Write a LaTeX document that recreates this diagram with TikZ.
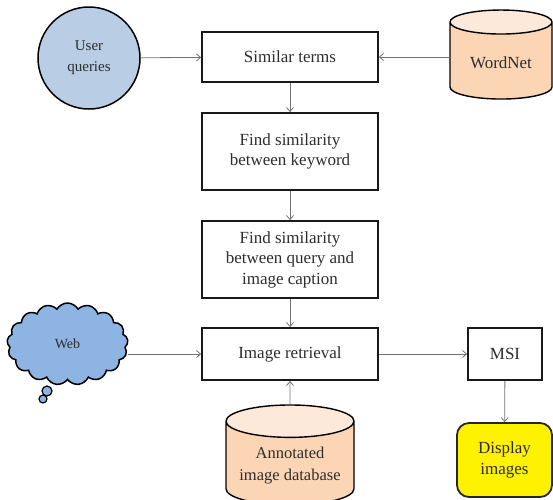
\documentclass[tikz,border=0pt]{standalone}
\usepackage{fontspec}
\setmainfont{Liberation Serif}
\usetikzlibrary{shapes.geometric,shapes.symbols,arrows.meta}

\definecolor{queryblue}{RGB}{185,205,229}
\definecolor{cloudblue}{RGB}{142,180,227}
\definecolor{dbbody}{RGB}{252,213,181}
\definecolor{dbtop}{RGB}{253,233,217}
\definecolor{txtgray}{RGB}{45,45,45}

\tikzset{every picture/.style={line width=0.75pt}}
\tikzset{
  stepbox/.style={draw=black!90, line width=1.8pt, minimum width=176, text=txtgray, align=center, font=\fontsize{17}{20.5}\selectfont},
  dbase/.style={cylinder, shape border rotate=90, draw=black, line width=1.4pt, cylinder uses custom fill, cylinder body fill=dbbody, cylinder end fill=dbtop, text=txtgray, align=center},
  flow/.style={draw=black!55, line width=0.8pt, -{Straight Barb[length=4pt,width=7pt]}}
}

\begin{document}
\begin{tikzpicture}[x=1pt,y=1pt,yscale=-1,xscale=1]
	\useasboundingbox (0,0) rectangle (553,499);

	%Shape: Circle [id:userq]
	\node [circle, draw=black, line width=1.5pt, fill=queryblue, minimum size=102, text=txtgray, align=center, font=\fontsize{15}{21}\selectfont] (userq) at (89,58) {User\\queries};
	%Shape: Cylinder [id:wordnet]
	\node [dbase, minimum width=102, minimum height=89, aspect=0.35, font=\fontsize{17}{20}\selectfont] (wordnet) at (501,63) {WordNet};
	%Shape: Cloud [id:web]
	\node [cloud, cloud puffs=17, cloud puff arc=120, draw=black, line width=1.5pt, fill=cloudblue, minimum width=121, minimum height=82, text=txtgray, font=\fontsize{14}{16}\selectfont] (web) at (67.5,344) {Web};
	\draw [black, line width=1.2pt, fill=cloudblue] (47,391) circle (5);
	\draw [black, line width=1.2pt, fill=cloudblue] (43,399) circle (4);

	%Process boxes
	\node [stepbox, minimum height=50] (similar) at (290,57) {Similar terms};
	\node [stepbox, minimum height=77] (keyword) at (290,151.5) {Find similarity\\between keyword};
	\node [stepbox, minimum height=77] (caption) at (290,259.5) {Find similarity\\between query and\\image caption};
	\node [stepbox, minimum height=52] (retrieval) at (290,354) {Image retrieval};
	\node [stepbox, minimum width=74, minimum height=52] (msi) at (505,354) {MSI};
	%Shape: Rounded Rect [id:display]
	\node [draw=black!85, line width=1.8pt, rounded corners=12, fill=yellow, minimum width=95, minimum height=74, text=txtgray, align=center, font=\fontsize{17}{21}\selectfont] (display) at (504.5,460) {Display\\images};
	%Shape: Cylinder [id:annot]
	\node [dbase, minimum width=128, minimum height=100, aspect=0.3, font=\fontsize{16.5}{22}\selectfont] (annot) at (290,466) {Annotated\\image database};

	%Straight Lines
	\draw [flow] (userq) -- (similar);
	\draw [flow] (wordnet.west |- similar.east) -- (similar.east);
	\draw [flow] (similar) -- (keyword);
	\draw [flow] (keyword) -- (caption);
	\draw [flow] (caption) -- (retrieval);
	\draw [flow] (web.east |- retrieval.west) -- (retrieval.west);
	\draw [flow] (annot) -- (retrieval);
	\draw [flow] (retrieval) -- (msi);
	\draw [flow] (msi) -- (display);

\end{tikzpicture}
\end{document}
